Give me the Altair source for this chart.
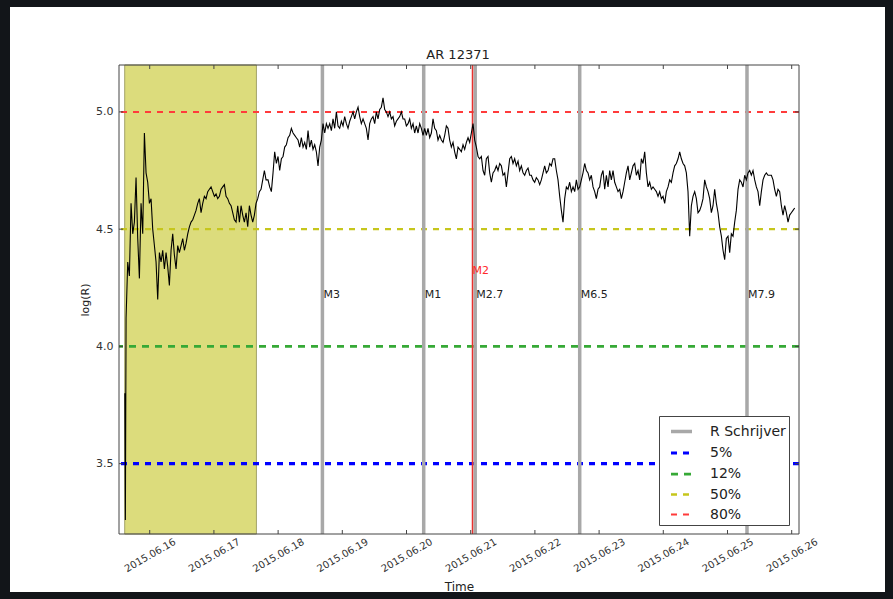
import altair as alt
import pandas as pd

TITLE = "AR 12371"
BASE = pd.Timestamp("2015-06-15 00:00")

# log(R) series: hours since 2015-06-15 00:00 and values
hours = [14.70, 14.90, 15.16, 15.78, 16.40, 17.02, 17.65, 18.27, 18.89, 19.52, 20.14, 20.76, 21.39, 22.01, 22.63, 23.25, 23.88,
         24.50, 25.12, 25.75, 26.37, 26.99, 27.62, 28.24, 28.86, 29.49, 30.11, 30.73, 31.35, 31.98, 32.60, 33.22, 33.85,
         34.47, 35.09, 35.72, 36.34, 36.96, 37.59, 38.21, 38.83, 39.45, 40.08, 40.70, 41.32, 41.95, 42.57, 43.19, 43.82,
         44.44, 45.06, 45.69, 46.31, 46.93, 47.55, 48.18, 48.80, 49.42, 50.05, 50.67, 51.29, 51.92, 52.54, 53.16, 53.79,
         54.41, 55.03, 55.65, 56.28, 56.90, 57.52, 58.15, 58.77, 59.39, 60.02, 60.64, 61.26, 61.88, 62.51, 63.13, 63.75,
         64.38, 65.00, 65.62, 66.25, 66.87, 67.49, 68.23, 68.85, 69.48, 70.10, 70.72, 71.35, 71.97, 72.59, 73.22, 73.84,
         74.46, 75.09, 75.71, 76.33, 76.95, 77.58, 78.20, 78.82, 79.45, 80.07, 80.69, 81.32, 81.94, 82.56, 83.19, 83.81,
         84.43, 85.05, 85.68, 86.30, 86.92, 87.55, 88.17, 88.79, 89.42, 90.04, 90.66, 91.29, 91.91, 92.53, 93.15, 93.78,
         94.40, 95.02, 95.65, 96.27, 96.89, 97.52, 98.14, 98.76, 99.39, 100.01, 100.63, 101.25, 101.88, 102.50, 103.12,
         103.75, 104.37, 104.99, 105.62, 106.24, 106.86, 107.48, 108.11, 108.73, 109.35, 109.98, 110.60, 111.22, 111.85,
         112.47, 113.09, 113.71, 114.34, 114.96, 115.58, 116.21, 116.83, 117.45, 118.08, 118.70, 119.32, 119.94, 120.57,
         121.19, 121.81, 122.44, 123.06, 123.68, 124.31, 124.93, 125.55, 126.18, 126.80, 127.42, 128.04, 128.67, 129.29,
         129.91, 130.54, 131.16, 131.78, 132.41, 133.03, 133.65, 134.28, 134.90, 135.52, 136.14, 136.77, 137.39, 138.01,
         138.64, 139.26, 139.88, 140.51, 141.13, 141.75, 142.38, 143.00, 143.62, 144.24, 144.87, 145.49, 146.11, 146.74,
         147.36, 147.98, 148.61, 149.23, 149.85, 150.48, 151.10, 151.72, 152.34, 152.97, 153.59, 154.21, 154.84, 155.46,
         156.08, 156.71, 157.33, 157.95, 158.58, 159.20, 159.82, 160.44, 161.07, 161.69, 162.31, 162.94, 163.56, 164.18,
         164.81, 165.43, 166.05, 166.67, 167.30, 167.92, 168.54, 169.17, 169.79, 170.41, 171.04, 171.66, 172.28, 172.91,
         173.53, 174.15, 174.77, 175.40, 176.02, 176.64, 177.27, 177.89, 178.51, 179.14, 179.76, 180.38, 181.00, 181.63,
         182.25, 182.87, 183.50, 184.12, 184.74, 185.37, 185.99, 186.61, 187.24, 187.86, 188.48, 189.10, 189.73, 190.35,
         190.97, 191.60, 192.22, 192.85, 193.47, 194.09, 194.72, 195.34, 195.96, 196.58, 197.21, 197.83, 198.45, 199.08,
         199.70, 200.32, 200.95, 201.57, 202.19, 202.82, 203.44, 204.06, 204.68, 205.31, 205.93, 206.55, 207.18, 207.80,
         208.42, 209.05, 209.67, 210.29, 210.91, 211.54, 212.16, 212.78, 213.41, 214.03, 214.65, 215.28, 215.90, 216.52,
         217.14, 217.77, 218.39, 219.01, 219.64, 220.26, 220.88, 221.51, 222.13, 222.75, 223.38, 224.00, 224.62, 225.24,
         225.87, 226.49, 227.11, 227.74, 228.36, 228.98, 229.61, 230.23, 230.85, 231.47, 232.10, 232.72, 233.34, 233.97,
         234.59, 235.21, 235.84, 236.46, 237.08, 237.71, 238.33, 238.95, 239.57, 240.20, 240.82, 241.44, 242.07, 242.69,
         243.31, 243.94, 244.56, 245.18, 245.81, 246.43, 247.05, 247.67, 248.30, 248.92, 249.54, 250.17, 250.79, 251.41,
         252.04, 252.66, 253.28, 253.90, 254.53, 255.15, 255.77, 256.40, 257.02, 257.64, 258.27, 258.89, 259.51, 260.14,
         260.76, 261.38, 262.00, 262.63, 263.25, 263.87, 264.50, 265.12]
logR = [3.80, 3.26, 4.12, 4.36, 4.30, 4.61, 4.48, 4.53, 4.72, 4.46, 4.29, 4.61, 4.48, 4.91, 4.74, 4.70, 4.61,
        4.63, 4.50, 4.43, 4.36, 4.20, 4.40, 4.36, 4.41, 4.33, 4.40, 4.34, 4.26, 4.41, 4.48, 4.39, 4.33,
        4.43, 4.40, 4.43, 4.46, 4.41, 4.44, 4.48, 4.51, 4.53, 4.54, 4.56, 4.58, 4.61, 4.63, 4.57, 4.61,
        4.64, 4.63, 4.66, 4.67, 4.68, 4.66, 4.64, 4.65, 4.63, 4.64, 4.67, 4.68, 4.69, 4.64, 4.63, 4.61,
        4.60, 4.57, 4.54, 4.53, 4.60, 4.53, 4.60, 4.56, 4.53, 4.57, 4.51, 4.60, 4.56, 4.53, 4.56, 4.61,
        4.63, 4.66, 4.67, 4.71, 4.75, 4.71, 4.71, 4.68, 4.66, 4.74, 4.83, 4.78, 4.81, 4.75, 4.80, 4.81,
        4.85, 4.86, 4.89, 4.90, 4.93, 4.91, 4.90, 4.89, 4.88, 4.85, 4.89, 4.85, 4.87, 4.84, 4.92, 4.85,
        4.88, 4.84, 4.86, 4.83, 4.77, 4.85, 4.88, 4.95, 4.91, 4.95, 4.93, 4.95, 4.92, 4.97, 4.93, 5.00,
        4.94, 4.93, 4.96, 4.94, 4.98, 4.95, 4.93, 4.96, 4.98, 5.00, 4.97, 5.00, 5.02, 4.98, 4.95,
        4.97, 4.95, 4.93, 4.88, 4.95, 4.97, 4.98, 4.95, 5.00, 4.97, 5.01, 5.02, 5.06, 5.01,
        5.00, 4.98, 5.00, 4.97, 4.98, 4.94, 4.96, 4.97, 4.98, 5.00, 4.97, 4.97, 4.94, 4.95,
        4.97, 4.93, 4.95, 4.91, 4.94, 4.91, 4.95, 4.93, 4.90, 4.93, 4.90, 4.93, 4.89, 4.91,
        4.97, 4.93, 4.92, 4.88, 4.90, 4.88, 4.87, 4.90, 4.94, 4.93, 4.88, 4.85, 4.87, 4.83,
        4.80, 4.85, 4.84, 4.83, 4.86, 4.84, 4.87, 4.89, 4.87, 4.91, 4.95, 4.88, 4.85, 4.81,
        4.80, 4.81, 4.75, 4.73, 4.80, 4.81, 4.74, 4.70, 4.74, 4.75, 4.77, 4.75, 4.78, 4.77,
        4.73, 4.74, 4.68, 4.74, 4.80, 4.81, 4.78, 4.80, 4.77, 4.79, 4.75, 4.77, 4.74, 4.73,
        4.75, 4.76, 4.73, 4.73, 4.71, 4.70, 4.72, 4.71, 4.69, 4.71, 4.74, 4.77, 4.74, 4.75,
        4.78, 4.77, 4.80, 4.80, 4.75, 4.71, 4.64, 4.58, 4.53, 4.63, 4.68, 4.67, 4.70, 4.66,
        4.68, 4.66, 4.71, 4.67, 4.68, 4.71, 4.74, 4.78, 4.75, 4.74, 4.71, 4.73, 4.68, 4.66,
        4.63, 4.67, 4.68, 4.73, 4.75, 4.67, 4.73, 4.68, 4.75, 4.71, 4.75, 4.70, 4.68, 4.66,
        4.67, 4.63, 4.66, 4.70, 4.74, 4.77, 4.71, 4.74, 4.77, 4.78, 4.73, 4.75, 4.71, 4.80,
        4.78, 4.83, 4.74, 4.68, 4.70, 4.67, 4.68, 4.67, 4.66, 4.64, 4.66, 4.63, 4.64, 4.61,
        4.66, 4.68, 4.71, 4.70, 4.74, 4.77, 4.78, 4.80, 4.83, 4.80, 4.78, 4.77, 4.74, 4.66,
        4.47, 4.60, 4.64, 4.66, 4.63, 4.57, 4.58, 4.60, 4.63, 4.71, 4.68, 4.66, 4.63, 4.57,
        4.60, 4.67, 4.61, 4.57, 4.51, 4.47, 4.41, 4.37, 4.46, 4.47, 4.40, 4.48, 4.47, 4.53,
        4.58, 4.67, 4.71, 4.70, 4.68, 4.73, 4.71, 4.74, 4.75, 4.73, 4.75, 4.71, 4.68, 4.66,
        4.60, 4.66, 4.71, 4.73, 4.74, 4.73, 4.73, 4.73, 4.71, 4.67, 4.64, 4.67, 4.66, 4.60,
        4.56, 4.60, 4.57, 4.53, 4.56, 4.57, 4.58, 4.59]

# flares (R Schrijver markers) and extra red marker
flare_hours = [88.56, 126.43, 145.68, 184.75, 247.29]
flare_labels = ["M3", "M1", "M2.7", "M6.5", "M7.9"]
flare_label_y = 4.22
red_hours = [144.67]
red_labels = ["M2"]
red_label_y = 4.32

# threshold levels
level_names = ["5%", "12%", "50%", "80%"]
level_values = [3.5, 4.0, 4.5, 5.0]

# shaded interval (hours)
span_start = [14.65]
span_end = [63.89]

tick_days = [16, 17, 18, 19, 20, 21, 22, 23, 24, 25, 26]
y_ticks = [3.5, 4.0, 4.5, 5.0]

W, H = 680, 469
FONT = "DejaVu Sans"
EDGE = "#121519"


def to_time(hs):
    return [BASE + pd.Timedelta(hours=h) for h in hs]


series_df = pd.DataFrame({"time": to_time(hours), "logR": logR})
flare_df = pd.DataFrame({"time": to_time(flare_hours), "label": flare_labels,
                         "series": ["R Schrijver"] * len(flare_hours), "ly": [flare_label_y] * len(flare_hours)})
red_df = pd.DataFrame({"time": to_time(red_hours), "label": red_labels, "ly": [red_label_y] * len(red_hours)})
level_df = pd.DataFrame({"series": level_names, "value": level_values})
span_df = pd.DataFrame({"time": to_time(span_start), "end": to_time(span_end)})
tick_df = pd.DataFrame({"time": [pd.Timestamp(2015, 6, d) for d in tick_days]})
ytick_df = pd.DataFrame({"value": y_ticks})

xscale = alt.Scale(domain=[alt.DateTime(year=2015, month=6, date=15, hours=12, minutes=31),
                           alt.DateTime(year=2015, month=6, date=26, hours=2, minutes=44)])
yscale = alt.Scale(domain=[3.2, 5.2], nice=False, zero=False)

xaxis = alt.Axis(values=[alt.DateTime(year=2015, month=6, date=d) for d in tick_days],
                 format="%Y.%m.%d", labelAngle=330, labelAlign="center", labelBaseline="middle",
                 labelPadding=21, ticks=False, domain=False, grid=False,
                 labelFont=FONT, labelFontSize=10, labelColor="#333", title="Time",
                 titleFont=FONT, titleFontSize=12, titleFontWeight="normal", titleColor="#222",
                 titleX=W / 2, titleY=52, titleBaseline="middle", titleAlign="center",
                 labelOverlap=False, labelFlush=False)
yaxis = alt.Axis(values=y_ticks, format=".1f", ticks=False, domain=False, grid=False,
                 labelFont=FONT, labelFontSize=11, labelColor="#333", labelPadding=6,
                 title="log(R)", titleFont=FONT, titleFontSize=11, titleFontWeight="normal",
                 titleColor="#222", titleX=-34, titleY=H / 2, titleAngle=270, titleBaseline="middle",
                 titleAlign="center")


def X(field):
    return alt.X(field, type="temporal", scale=xscale, axis=xaxis, title="Time")


def Y(field):
    return alt.Y(field, type="quantitative", scale=yscale, axis=yaxis, title="log(R)")


leg_domain = ["R Schrijver"] + level_names
legend = alt.Legend(title=None, orient="none", legendX=540, legendY=351, symbolType="stroke",
                    symbolSize=441, symbolOffset=7, labelOffset=16, rowPadding=1.5, padding=3,
                    strokeColor="#444", fillColor="white", labelFont=FONT, labelFontSize=14,
                    labelColor="#222", cornerRadius=0)
color_enc = alt.Color("series:N", scale=alt.Scale(domain=leg_domain,
                      range=["#a8a8a8", "#0000ff", "#36a936", "#c6c61c", "#ff3b3b"]), legend=legend)
dash_enc = alt.StrokeDash("series:N", scale=alt.Scale(domain=leg_domain,
                          range=[[1, 0], [6, 6], [7, 6], [6, 6], [6, 6]]), legend=legend)
width_enc = alt.StrokeWidth("series:N", scale=alt.Scale(domain=leg_domain,
                            range=[3.5, 2, 3, 1.6, 2.5]), legend=legend)

one = pd.DataFrame({"a": [0]})
title_df = pd.DataFrame({"t": [TITLE]})

span = alt.Chart(span_df).mark_rect(color="#dcdc7c", stroke="#a3a36a", strokeWidth=1).encode(
    x=X("time"), x2="end:T", y=alt.value(0), y2=alt.value(H))

levels = alt.Chart(level_df).mark_rule().encode(
    y=Y("value"), color=color_enc, strokeDash=dash_enc, strokeWidth=width_enc)

flares = alt.Chart(flare_df).mark_rule().encode(
    x=X("time"), color=color_enc, strokeDash=dash_enc, strokeWidth=width_enc)

red = alt.Chart(red_df).mark_rule(color="#e8322f", strokeWidth=1.5).encode(x=X("time"))

line = alt.Chart(series_df).mark_line(color="black", strokeWidth=1.1).encode(x=X("time"), y=Y("logR"))

flare_text = alt.Chart(flare_df).mark_text(align="left", baseline="middle", dx=1, font=FONT,
                                           fontSize=11, color="#222").encode(
    x=X("time"), y=Y("ly"), text="label:N")

red_text = alt.Chart(red_df).mark_text(align="left", baseline="middle", dx=0, font=FONT,
                                       fontSize=11, color="#ff2a2a").encode(
    x=X("time"), y=Y("ly"), text="label:N")

xt_bottom = alt.Chart(tick_df).mark_rule(color="#444", strokeWidth=1).encode(
    x=X("time"), y=alt.value(H - 4), y2=alt.value(H))
xt_top = alt.Chart(tick_df).mark_rule(color="#444", strokeWidth=1).encode(
    x=X("time"), y=alt.value(0), y2=alt.value(4))
yt_left = alt.Chart(ytick_df).mark_rule(color="#444", strokeWidth=1).encode(
    y=Y("value"), x=alt.value(0), x2=alt.value(4))
yt_right = alt.Chart(ytick_df).mark_rule(color="#444", strokeWidth=1).encode(
    y=Y("value"), x=alt.value(W - 4), x2=alt.value(W))

frame = alt.Chart(one).mark_rect(fillOpacity=0, stroke="#444", strokeWidth=1).encode(
    x=alt.value(0), x2=alt.value(W), y=alt.value(0), y2=alt.value(H))

title_text = alt.Chart(title_df).mark_text(font=FONT, fontSize=13, color="#222",
                                           align="center", baseline="middle").encode(
    x=alt.value(W / 2 - 1), y=alt.value(-10), text="t:N")

# dark screenshot border around the white page
edge_left = alt.Chart(one).mark_rect(color=EDGE).encode(
    x=alt.value(-120), x2=alt.value(-109), y=alt.value(-66), y2=alt.value(H + 66))
edge_right = alt.Chart(one).mark_rect(color=EDGE).encode(
    x=alt.value(W + 86), x2=alt.value(W + 95), y=alt.value(-66), y2=alt.value(H + 66))
edge_top = alt.Chart(one).mark_rect(color=EDGE).encode(
    x=alt.value(-120), x2=alt.value(W + 95), y=alt.value(-66), y2=alt.value(-58))
edge_bottom = alt.Chart(one).mark_rect(color=EDGE).encode(
    x=alt.value(-120), x2=alt.value(W + 95), y=alt.value(H + 58), y2=alt.value(H + 66))

chart = alt.layer(span, levels, flares, red, line, flare_text, red_text,
                  xt_bottom, xt_top, yt_left, yt_right, frame, title_text,
                  edge_left, edge_right, edge_top, edge_bottom).properties(
    width=W, height=H,
    padding={"left": 119, "top": 65, "right": 94, "bottom": 65},
    autosize="none",
    background="white",
).configure_view(stroke="transparent")

chart.save("out.html", embed_options={"renderer": "svg", "actions": False})
